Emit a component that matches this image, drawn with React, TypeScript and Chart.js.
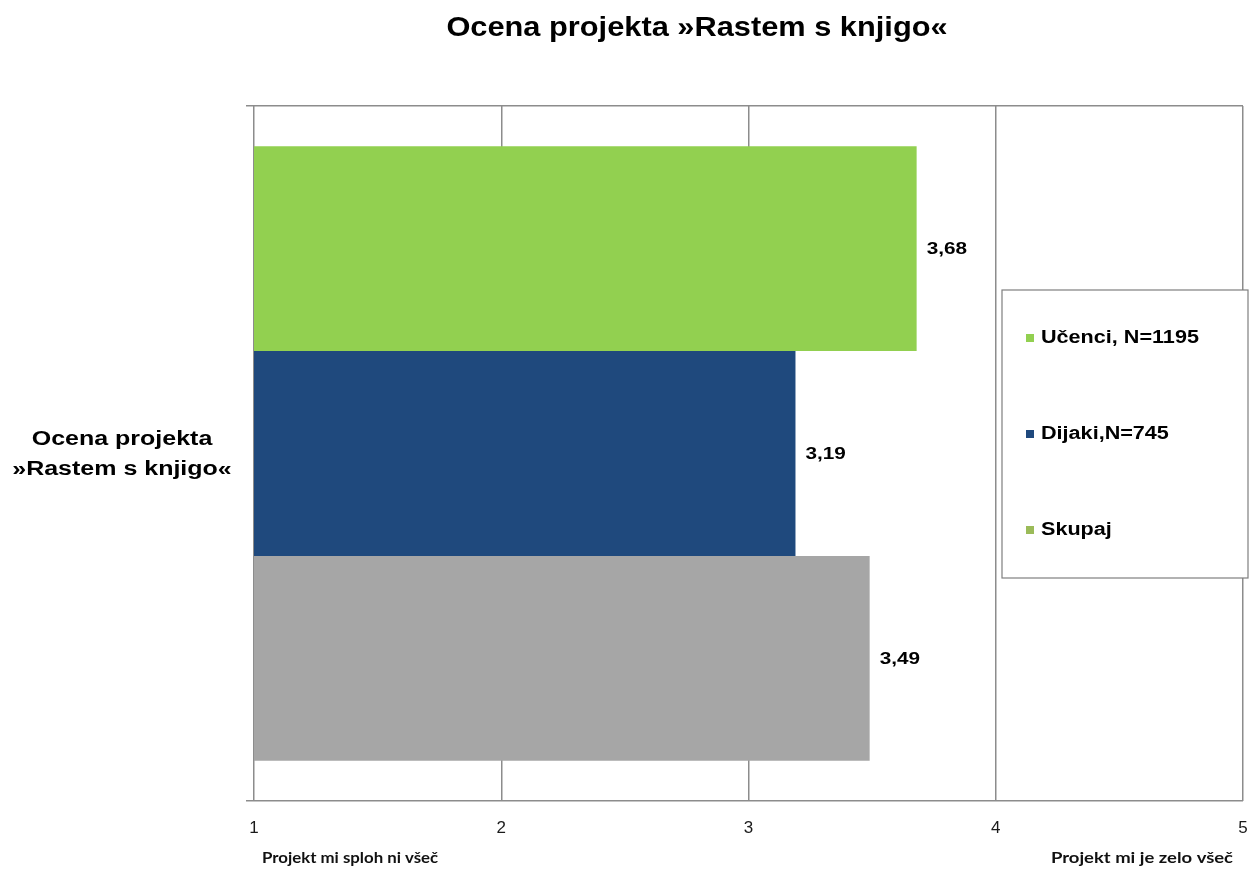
import React, { useEffect, useRef } from "react";
import { Chart, registerables } from "chart.js";

Chart.register(...registerables);

const titleText = "Ocena projekta »Rastem s knjigo«";
const categoryLines = ["Ocena projekta", "»Rastem s knjigo«"];
const categories = [categoryLines.join(" ")];
const seriesNames = ["Učenci, N=1195", "Dijaki,N=745", "Skupaj"];
const ucenci = [3.68];
const dijaki = [3.19];
const skupaj = [3.49];
const barColors = ["#92D050", "#1F497D", "#A6A6A6"];
const legendColors = ["#92D050", "#1F497D", "#9BBB59"];
const xTicks = [1, 2, 3, 4, 5];
const scaleLeftText = "Projekt mi sploh ni všeč";
const scaleRightText = "Projekt mi je zelo všeč";

const FONT = "'Liberation Sans', Arial, sans-serif";

function stretchText(ctx: any, text: string, x: number, y: number, align: string, sx: number) {
  ctx.save();
  ctx.translate(x, y);
  ctx.scale(sx, 1);
  ctx.textAlign = align;
  ctx.fillText(text, 0, 0);
  ctx.restore();
}

const extrasPlugin = {
  id: "extras",
  afterDatasetsDraw(chart: any) {
    const ctx = chart.ctx;
    const area = chart.chartArea;
    const xs = chart.scales.x;
    const ys = chart.scales.y;
    ctx.save();
    ctx.textBaseline = "middle";
    // data labels
    ctx.fillStyle = "#000";
    ctx.font = `bold 17px ${FONT}`;
    chart.data.datasets.forEach((ds: any, i: number) => {
      const meta = chart.getDatasetMeta(i);
      meta.data.forEach((bar: any, j: number) => {
        const v = ds.data[j];
        stretchText(ctx, v.toFixed(2).replace(".", ","), bar.x + 10, bar.y + 1, "left", 1.22);
      });
    });
    // title
    ctx.font = `bold 27px ${FONT}`;
    stretchText(ctx, titleText, 697, 29, "center", 1.14);
    // category label
    ctx.font = `bold 20px ${FONT}`;
    const cy = ys.getPixelForValue(0);
    stretchText(ctx, categoryLines[0], 122, cy - 14, "center", 1.25);
    stretchText(ctx, categoryLines[1], 122, cy + 16, "center", 1.25);
    // scale end labels
    ctx.font = `bold 15px Lato, 'Open Sans', sans-serif`;
    ctx.fillStyle = "#111";
    stretchText(ctx, scaleLeftText, xs.getPixelForValue(xTicks[0]) + 8, 858, "left", 1.12);
    stretchText(ctx, scaleRightText, xs.getPixelForValue(xTicks[xTicks.length - 1]) - 10, 858, "right", 1.23);
    // legend box
    const lx = area.right - 241;
    const ly = area.top + 184;
    const lw = 246;
    const lh = 288;
    ctx.fillStyle = "#fff";
    ctx.fillRect(lx, ly, lw, lh);
    ctx.strokeStyle = "#7f7f7f";
    ctx.lineWidth = 1.2;
    ctx.strokeRect(lx, ly, lw, lh);
    ctx.font = `bold 18px ${FONT}`;
    seriesNames.forEach((name, i) => {
      const iy = ly + 48 + i * 96;
      ctx.fillStyle = legendColors[i];
      ctx.fillRect(lx + 24, iy - 4, 8, 8);
      ctx.fillStyle = "#000";
      stretchText(ctx, name, lx + 39, iy, "left", 1.2);
    });
    ctx.restore();
  },
};

export default function App() {
  const ref = useRef<HTMLCanvasElement | null>(null);
  useEffect(() => {
    document.body.style.margin = "0";
    const canvas = ref.current!;
    const chart = new Chart(canvas, {
      type: "bar",
      data: {
        labels: categories,
        datasets: [
          { label: seriesNames[0], data: ucenci, backgroundColor: barColors[0] },
          { label: seriesNames[1], data: dijaki, backgroundColor: barColors[1] },
          { label: seriesNames[2], data: skupaj, backgroundColor: barColors[2] },
        ],
      },
      options: {
        indexAxis: "y",
        responsive: false,
        animation: false,
        layout: { padding: { top: 106, right: 14, left: 0, bottom: 0 } },
        datasets: { bar: { categoryPercentage: 0.884, barPercentage: 1 } },
        plugins: {
          legend: { display: false },
          title: { display: false },
          tooltip: { enabled: false },
        },
        scales: {
          x: {
            min: 1,
            max: 5,
            afterBuildTicks: (scale: any) => {
              scale.ticks = xTicks.map((v) => ({ value: v }));
            },
            afterFit: (scale: any) => {
              scale.height = 71;
              scale.paddingLeft = 0;
              scale.paddingRight = 0;
            },
            grid: {
              color: "#8c8c8c",
              lineWidth: 1.5,
              drawTicks: false,
            },
            border: { display: false },
            ticks: {
              padding: 17,
              color: "#1a1a1a",
              font: { family: FONT, size: 17 },
            },
          },
          y: {
            afterFit: (scale: any) => {
              scale.width = 254;
            },
            grid: {
              offset: true,
              color: "#8c8c8c",
              lineWidth: 1.5,
              tickLength: 8,
            },
            border: { display: false },
            ticks: { display: false },
          },
        },
      },
      plugins: [extrasPlugin],
    });
    return () => chart.destroy();
  }, []);
  return <canvas ref={ref} width={1257} height={872} style={{ display: "block" }} />;
}
